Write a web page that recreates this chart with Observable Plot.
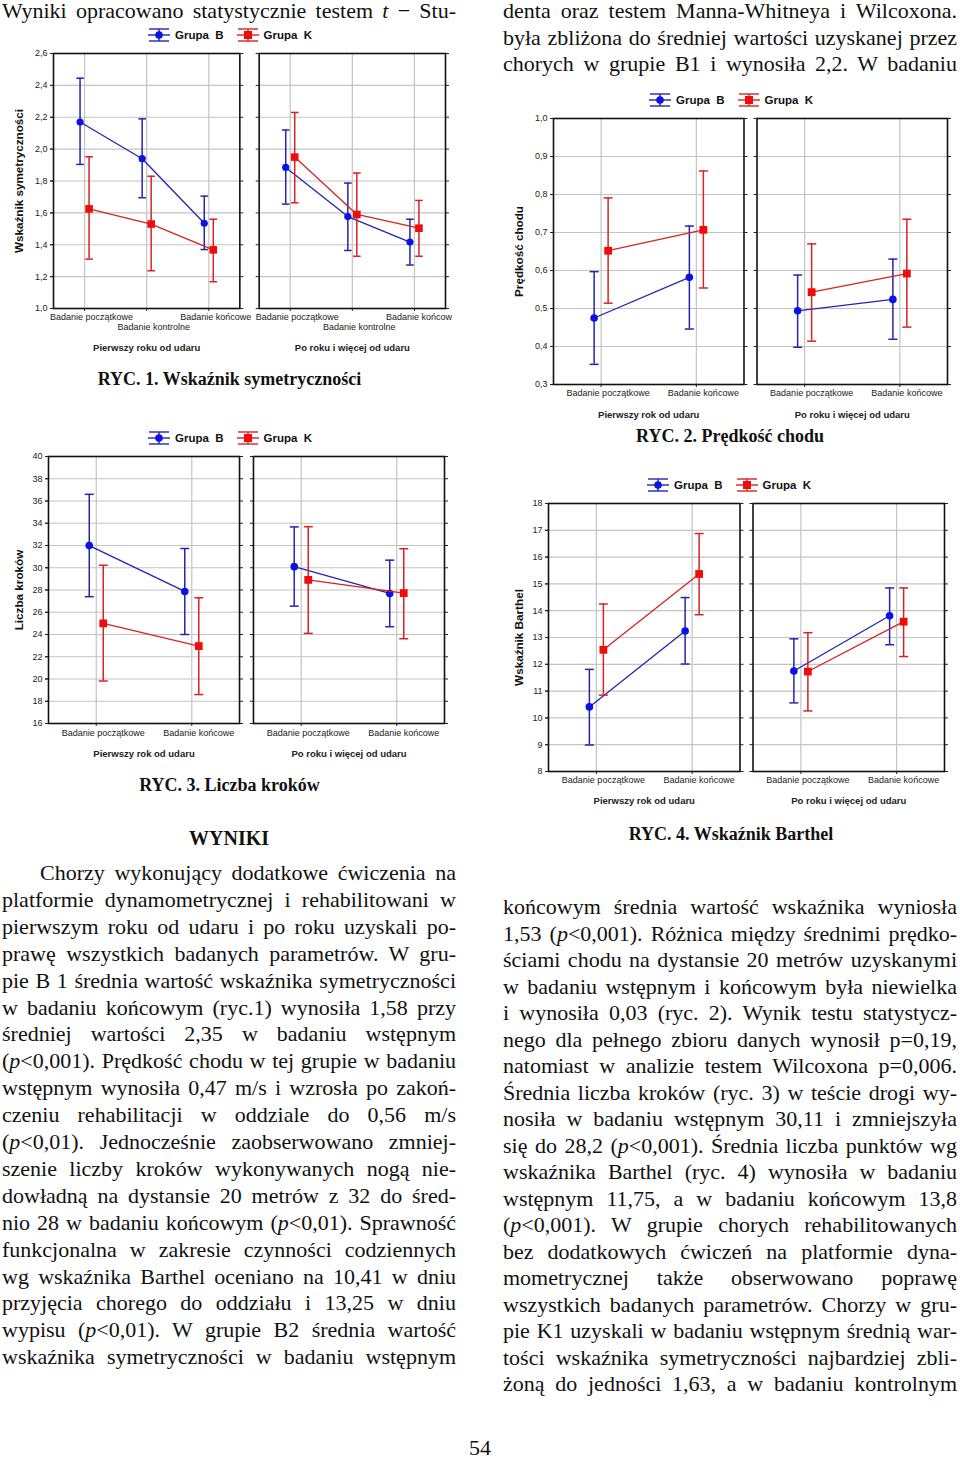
<!DOCTYPE html>
<html><head><meta charset="utf-8">
<script src="https://cdn.jsdelivr.net/npm/d3@7"></script>
<script src="https://cdn.jsdelivr.net/npm/@observablehq/plot@0.6"></script>
<style>
html,body{margin:0;padding:0;background:#fff;}
#page{position:relative;width:960px;height:1460px;overflow:hidden;background:#fff;}
.chart{position:absolute;overflow:hidden;}
.ln{position:absolute;white-space:pre;font-family:'Liberation Serif','Times New Roman',serif;font-size:22px;line-height:22px;color:#111;}
.cap{position:absolute;font-family:'Liberation Serif','Times New Roman',serif;font-weight:bold;font-size:18px;line-height:18px;color:#111;white-space:nowrap;transform:translateX(-50%);}
.legend{position:absolute;display:flex;align-items:center;height:16px;font-family:'Liberation Sans',Arial,sans-serif;font-weight:bold;font-size:11.5px;color:#111;white-space:pre;}
.legend svg{display:block;}
.chart [aria-label="y-axis label"] text,.chart [aria-label="y-axis label"]{font-weight:bold;font-size:11.7px;fill:#111;}
</style></head>
<body><div id="page"></div>
<script>
// ---------- categories ----------
const groups = ["Grupa B", "Grupa K"];
const stages3 = ["Badanie początkowe", "Badanie kontrolne", "Badanie końcowe"];
const stages2 = ["Badanie początkowe", "Badanie końcowe"];
const periodsRyc1 = ["Pierwszy roku od udaru", "Po roku i więcej od udaru"];
const periods = ["Pierwszy rok od udaru", "Po roku i więcej od udaru"];

// ---------- RYC. 1 Wskaźnik symetryczności (period 1: 3 stages, period 2: 3 stages) ----------
const sym_B_mean = [2.17, 1.94, 1.535, 1.885, 1.577, 1.417];
const sym_B_lo   = [1.904, 1.695, 1.37, 1.655, 1.364, 1.273];
const sym_B_hi   = [2.445, 2.19, 1.705, 2.12, 1.787, 1.56];
const sym_K_mean = [1.625, 1.53, 1.368, 1.95, 1.59, 1.504];
const sym_K_lo   = [1.31, 1.237, 1.168, 1.663, 1.328, 1.328];
const sym_K_hi   = [1.952, 1.83, 1.56, 2.23, 1.85, 1.678];
const sym_yTicks = [1.0, 1.2, 1.4, 1.6, 1.8, 2.0, 2.2, 2.4, 2.6];

// ---------- RYC. 2 Prędkość chodu ----------
const vel_B_mean = [0.475, 0.582, 0.494, 0.524];
const vel_B_lo   = [0.353, 0.446, 0.398, 0.419];
const vel_B_hi   = [0.597, 0.717, 0.588, 0.630];
const vel_K_mean = [0.652, 0.707, 0.543, 0.592];
const vel_K_lo   = [0.514, 0.554, 0.414, 0.451];
const vel_K_hi   = [0.791, 0.862, 0.670, 0.735];
const vel_yTicks = [0.3, 0.4, 0.5, 0.6, 0.7, 0.8, 0.9, 1.0];

// ---------- RYC. 3 Liczba kroków ----------
const step_B_mean = [31.99, 27.87, 30.1, 27.69];
const step_B_lo   = [27.4, 24.0, 26.55, 24.7];
const step_B_hi   = [36.6, 31.73, 33.67, 30.68];
const step_K_mean = [25.0, 22.96, 28.91, 27.72];
const step_K_lo   = [19.82, 18.6, 24.1, 23.62];
const step_K_hi   = [30.22, 27.3, 33.69, 31.71];
const step_yTicks = [16, 18, 20, 22, 24, 26, 28, 30, 32, 34, 36, 38, 40];

// ---------- RYC. 4 Wskaźnik Barthel ----------
const bar_B_mean = [10.41, 13.24, 11.75, 13.81];
const bar_B_lo   = [8.99, 12.01, 10.56, 12.73];
const bar_B_hi   = [11.81, 14.49, 12.95, 14.85];
const bar_K_mean = [12.54, 15.37, 11.73, 13.59];
const bar_K_lo   = [10.85, 13.85, 10.26, 12.29];
const bar_K_hi   = [14.25, 16.88, 13.18, 14.85];
const bar_yTicks = [8, 9, 10, 11, 12, 13, 14, 15, 16, 17, 18];

// ---------- texts ----------
const topLeftLines = ["Wyniki opracowano statystycznie testem <i>t</i> − Stu-"];
const topRightLines = [
  "denta oraz testem Manna-Whitneya i Wilcoxona.",
  "była zbliżona do średniej wartości uzyskanej przez",
  "chorych w grupie B1 i wynosiła 2,2. W badaniu"
];
const leftLines = [
  "Chorzy wykonujący dodatkowe ćwiczenia na",
  "platformie dynamometrycznej i rehabilitowani w",
  "pierwszym roku od udaru i po roku uzyskali po-",
  "prawę wszystkich badanych parametrów. W gru-",
  "pie B 1 średnia wartość wskaźnika symetryczności",
  "w badaniu końcowym (ryc.1) wynosiła 1,58 przy",
  "średniej wartości 2,35 w badaniu wstępnym",
  "(<i>p</i>&lt;0,001). Prędkość chodu w tej grupie w badaniu",
  "wstępnym wynosiła 0,47 m/s i wzrosła po zakoń-",
  "czeniu rehabilitacji w oddziale do 0,56 m/s",
  "(<i>p</i>&lt;0,01). Jednocześnie zaobserwowano zmniej-",
  "szenie liczby kroków wykonywanych nogą nie-",
  "dowładną na dystansie 20 metrów z 32 do śred-",
  "nio 28 w badaniu końcowym (<i>p</i>&lt;0,01). Sprawność",
  "funkcjonalna w zakresie czynności codziennych",
  "wg wskaźnika Barthel oceniano na 10,41 w dniu",
  "przyjęcia chorego do oddziału i 13,25 w dniu",
  "wypisu (<i>p</i>&lt;0,01). W grupie B2 średnia wartość",
  "wskaźnika symetryczności w badaniu wstępnym"
];
const rightLines = [
  "końcowym średnia wartość wskaźnika wyniosła",
  "1,53 (<i>p</i>&lt;0,001). Różnica między średnimi prędko-",
  "ściami chodu na dystansie 20 metrów uzyskanymi",
  "w badaniu wstępnym i końcowym była niewielka",
  "i wynosiła 0,03 (ryc. 2). Wynik testu statystycz-",
  "nego dla pełnego zbioru danych wynosił p=0,19,",
  "natomiast w analizie testem Wilcoxona p=0,006.",
  "Średnia liczba kroków (ryc. 3) w teście drogi wy-",
  "nosiła w badaniu wstępnym 30,11 i zmniejszyła",
  "się do 28,2 (<i>p</i>&lt;0,001). Średnia liczba punktów wg",
  "wskaźnika Barthel (ryc. 4) wynosiła w badaniu",
  "wstępnym 11,75, a w badaniu końcowym 13,8",
  "(<i>p</i>&lt;0,001). W grupie chorych rehabilitowanych",
  "bez dodatkowych ćwiczeń na platformie dyna-",
  "mometrycznej także obserwowano poprawę",
  "wszystkich badanych parametrów. Chorzy w gru-",
  "pie K1 uzyskali w badaniu wstępnym średnią war-",
  "tości wskaźnika symetryczności najbardziej zbli-",
  "żoną do jedności 1,63, a w badaniu kontrolnym"
];

// ---------- helpers ----------
const page = document.getElementById("page");
const colors = {
  "Grupa B": {line: "#2424b0", mark: "#0a12e6"},
  "Grupa K": {line: "#d82222", mark: "#f00c0c"}
};
const capSym = {draw(ctx, size) { const w = Math.sqrt(size / Math.PI); ctx.moveTo(-w, 0); ctx.lineTo(w, 0); }};

function buildRows(periodsArr, stagesArr, series) {
  const rows = [];
  groups.forEach((g, gi) => {
    const [m, lo, hi] = series[gi];
    let i = 0;
    periodsArr.forEach(p => stagesArr.forEach(s => {
      rows.push({period: p, stage: s, group: g, mean: m[i], lo: lo[i], hi: hi[i]});
      i++;
    }));
  });
  return rows;
}

function makeChart(cfg) {
  const fmt = d => d.toFixed(cfg.dec).replace(".", ",");
  const grid = {stroke: "#c4c4c4", strokeOpacity: 1, strokeWidth: 1.2};
  const marks = [
    Plot.gridY({ticks: cfg.yTicks, ...grid}),
    Plot.gridX(grid)
  ];
  for (const g of groups) {
    const d = cfg.rows.filter(r => r.group === g);
    const dx = g === "Grupa B" ? -cfg.off : cfg.off;
    const c = colors[g];
    marks.push(
      Plot.line(d, {x: "stage", y: "mean", fx: "period", stroke: c.line, strokeWidth: 1.3, dx}),
      Plot.ruleX(d, {x: "stage", y1: "lo", y2: "hi", fx: "period", stroke: c.line, strokeWidth: 1.5, dx}),
      Plot.dot(d, {x: "stage", y: "lo", fx: "period", symbol: capSym, r: cfg.cap, fill: "none", stroke: c.line, strokeWidth: 1.5, dx}),
      Plot.dot(d, {x: "stage", y: "hi", fx: "period", symbol: capSym, r: cfg.cap, fill: "none", stroke: c.line, strokeWidth: 1.5, dx}),
      Plot.dot(d, {x: "stage", y: "mean", fx: "period", symbol: g === "Grupa B" ? "circle" : "square",
        r: g === "Grupa B" ? cfg.rDot : cfg.rSq, fill: c.mark, stroke: "none", dx})
    );
  }
  marks.push(
    Plot.frame({stroke: "#111", strokeWidth: 1.6}),
    Plot.axisY({ticks: cfg.yTicks, tickFormat: fmt, tickSize: 3, tickPadding: 3, label: cfg.yLabel,
      labelAnchor: "center", labelOffset: cfg.labelOffset, labelArrow: "none", fontSize: 9}),
    Plot.axisY({ticks: cfg.yTicks, tickFormat: () => "", tickSize: 3, label: null, anchor: "left", facetAnchor: null}),
    Plot.axisY({ticks: cfg.yTicks, tickFormat: () => "", tickSize: 3, label: null, anchor: "right", facetAnchor: null}),
    Plot.axisX({tickSize: 3, tickFormat: () => "", label: null})
  );
  if (cfg.stages.length === 3) {
    marks.push(
      Plot.axisX({ticks: [cfg.stages[0], cfg.stages[2]], tickSize: 0, tickPadding: cfg.xPad, dx: 7, label: null, fontSize: 9}),
      Plot.axisX({ticks: [cfg.stages[1]], tickSize: 0, tickPadding: cfg.xPad + 10, dx: 7, label: null, fontSize: 9})
    );
  } else {
    marks.push(Plot.axisX({tickSize: 0, tickPadding: cfg.xPad, dx: 7, label: null, fontSize: 9}));
  }
  marks.push(Plot.axisFx({anchor: "bottom", tickSize: 0, tickPadding: cfg.fxPad, label: null, fontWeight: "bold", fontSize: 9.5}));

  const svg = Plot.plot({
    width: cfg.width, height: cfg.height,
    marginTop: cfg.mt, marginBottom: cfg.mb, marginLeft: cfg.ml, marginRight: cfg.mr,
    x: {type: "point", domain: cfg.stages, padding: 0.5, round: false, axis: null},
    y: {domain: cfg.yDomain, axis: null},
    fx: {domain: cfg.periods, paddingInner: cfg.fxInner, paddingOuter: 0, round: false, axis: null},
    style: {fontFamily: "'Liberation Sans', Arial, sans-serif", fontSize: "9px", color: "#222", background: "transparent", overflow: "hidden"},
    marks
  });
  const wrap = document.createElement("div");
  wrap.className = "chart";
  wrap.style.left = cfg.left + "px";
  wrap.style.top = cfg.top + "px";
  wrap.style.width = cfg.width + "px";
  wrap.style.height = cfg.height + "px";
  wrap.appendChild(svg);
  page.appendChild(wrap);
}

function legend(left, cy) {
  const div = document.createElement("div");
  div.className = "legend";
  div.style.left = left + "px";
  div.style.top = (cy - 8) + "px";
  groups.forEach((g, i) => {
    const c = colors[g];
    const mk = g === "Grupa B"
      ? `<circle cx="11" cy="7" r="3.8" fill="${c.mark}"/>`
      : `<rect x="7" y="3" width="8" height="8" fill="${c.mark}"/>`;
    const sym = `<svg width="22" height="14" style="margin-left:${i ? 13 : 0}px"><g stroke="${c.line}" stroke-width="1.4">
      <line x1="1" x2="21" y1="1" y2="1"/><line x1="1" x2="21" y1="13" y2="13"/>
      <line x1="11" x2="11" y1="1" y2="13"/><line x1="0" x2="22" y1="7" y2="7"/></g>${mk}</svg>`;
    div.insertAdjacentHTML("beforeend", sym + `<span style="margin-left:5px">${g.replace(" ", "  ")}</span>`);
  });
  page.appendChild(div);
}

function caption(text, cx, cy, size) {
  const d = document.createElement("div");
  d.className = "cap";
  if (size) { d.style.fontSize = size + "px"; d.style.lineHeight = size + "px"; }
  d.style.left = cx + "px";
  d.style.top = (cy - (size || 18) / 2) + "px";
  d.textContent = text;
  page.appendChild(d);
}

function textLine(html, x, width, top, indent) {
  const d = document.createElement("div");
  d.className = "ln";
  d.style.left = (x + indent) + "px";
  d.style.top = top + "px";
  d.innerHTML = html;
  page.appendChild(d);
  const natural = d.getBoundingClientRect().width;
  const target = width - indent;
  const txt = d.textContent;
  const nSp = (txt.match(/ /g) || []).length;
  const extra = target - natural;
  if (nSp > 0 && extra / nSp > -2.5) {
    d.style.wordSpacing = (extra / nSp) + "px";
  } else {
    d.style.letterSpacing = (extra / txt.length) + "px";
  }
}

// ---------- charts ----------
makeChart({
  rows: buildRows(periodsRyc1, stages3, [[sym_B_mean, sym_B_lo, sym_B_hi], [sym_K_mean, sym_K_lo, sym_K_hi]]),
  stages: stages3, periods: periodsRyc1, yDomain: [1.0, 2.6], yTicks: sym_yTicks, dec: 1,
  yLabel: "Wskaźnik symetryczności",
  left: 0, top: 45, width: 452, height: 313, mt: 8, mb: 50, ml: 53, mr: 7,
  fxInner: 0.094, off: 4.5, xPad: 5, fxPad: 36, labelOffset: 39, rDot: 3.6, rSq: 4.3, cap: 3.8
});
makeChart({
  rows: buildRows(periods, stages2, [[vel_B_mean, vel_B_lo, vel_B_hi], [vel_K_mean, vel_K_lo, vel_K_hi]]),
  stages: stages2, periods: periods, yDomain: [0.3, 1.0], yTicks: vel_yTicks, dec: 1,
  yLabel: "Prędkość chodu",
  left: 500, top: 110, width: 460, height: 320, mt: 8, mb: 46, ml: 53, mr: 13,
  fxInner: 0.064, off: 7, xPad: 5, fxPad: 27, labelOffset: 39, rDot: 3.8, rSq: 4.4, cap: 4.5
});
makeChart({
  rows: buildRows(periods, stages2, [[step_B_mean, step_B_lo, step_B_hi], [step_K_mean, step_K_lo, step_K_hi]]),
  stages: stages2, periods: periods, yDomain: [16, 40], yTicks: step_yTicks, dec: 0,
  yLabel: "Liczba kroków",
  left: 0, top: 448, width: 460, height: 321, mt: 8, mb: 46, ml: 48, mr: 16,
  fxInner: 0.068, off: 7, xPad: 6, fxPad: 27, labelOffset: 34, rDot: 3.8, rSq: 4.4, cap: 4.5
});
makeChart({
  rows: buildRows(periods, stages2, [[bar_B_mean, bar_B_lo, bar_B_hi], [bar_K_mean, bar_K_lo, bar_K_hi]]),
  stages: stages2, periods: periods, yDomain: [8, 18], yTicks: bar_yTicks, dec: 0,
  yLabel: "Wskaźnik Barthel",
  left: 500, top: 495, width: 460, height: 321, mt: 8, mb: 45, ml: 48, mr: 16,
  fxInner: 0.0636, off: 7, xPad: 5, fxPad: 26, labelOffset: 34, rDot: 3.8, rSq: 4.4, cap: 4.5
});

legend(148, 35);
legend(649, 100);
legend(148, 438);
legend(647, 485);

caption("RYC. 1. Wskaźnik symetryczności", 229.5, 379);
caption("RYC. 2. Prędkość chodu", 730, 435.5);
caption("RYC. 3. Liczba kroków", 229.5, 785);
caption("RYC. 4. Wskaźnik Barthel", 731, 834);
caption("WYNIKI", 229, 838, 20);

// ---------- body text ----------
topLeftLines.forEach((t, i) => textLine(t, 2, 454, 0 + 27 * i, 0));
topRightLines.forEach((t, i) => textLine(t, 503, 454, 0 + 26.7 * i, 0));
leftLines.forEach((t, i) => textLine(t, 2, 454, 873 + 26.9 * i - 11, i === 0 ? 38 : 0));
rightLines.forEach((t, i) => textLine(t, 503, 454, 907 + 26.5 * i - 11, 0));

const pn = document.createElement("div");
pn.className = "ln";
pn.style.left = "469px"; pn.style.top = "1437px";
pn.textContent = "54";
page.appendChild(pn);
</script></body></html>
